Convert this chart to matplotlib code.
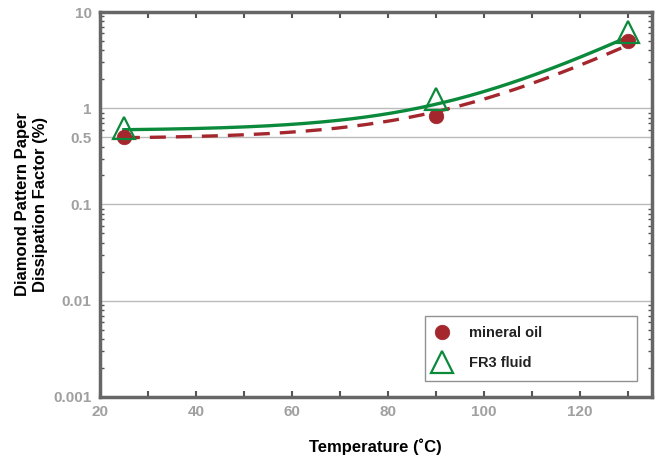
import numpy as np
import matplotlib
matplotlib.use("Agg")
import matplotlib.pyplot as plt
from matplotlib.ticker import FixedLocator, NullFormatter, LogLocator, MultipleLocator

temps = [25, 90, 130]
mineral_oil = [0.50, 0.83, 5.0]
fr3_fluid = [0.63, 1.24, 6.2]
# trend curves y = a + b*exp(c*T)
mineral_oil_fit = (0.482, 0.00296, 0.0555)
fr3_fluid_fit = (0.585, 0.003215, 0.0564)
ytick_vals = [0.001, 0.01, 0.1, 0.5, 1, 10]
ytick_labels = ["0.001", "0.01", "0.1", "0.5", "1", "10"]
xtick_vals = [20, 40, 60, 80, 100, 120]

plt.rcParams['font.family'] = ['Liberation Sans', 'DejaVu Sans']

fig = plt.figure(figsize=(6.57, 4.62), dpi=100)
ax = fig.add_axes([0.152, 0.141, 0.840, 0.833])

red = '#a3272d'
green = '#0b8a3c'

xs = np.linspace(temps[0], temps[-1], 300)
def curve(p, t):
    return p[0] + p[1] * np.exp(p[2] * t)

ax.plot(xs, curve(fr3_fluid_fit, xs), color=green, lw=2.4, zorder=3)
ax.plot(xs, curve(mineral_oil_fit, xs), color=red, lw=2.4, ls=(0, (4.8, 3.0)), zorder=3)

ax.plot(temps, mineral_oil, 'o', color=red, markersize=10.5, markeredgecolor=red,
        markeredgewidth=0.5, ls='none', zorder=4, label='mineral oil')
ax.plot(temps, fr3_fluid, '^', markerfacecolor='none', markeredgecolor=green, markersize=16,
        markeredgewidth=1.6, ls='none', zorder=5, label='FR3 fluid')

ax.set_yscale('log')
ax.set_xlim(20, 135)
ax.set_ylim(0.001, 10)

for yv in [0.01, 0.1, 0.5, 1]:
    ax.axhline(yv, color='#bbbbbb', lw=1, zorder=1)

ax.yaxis.set_major_locator(FixedLocator(ytick_vals))
ax.set_yticklabels(ytick_labels)
ax.yaxis.set_minor_locator(LogLocator(base=10, subs=np.arange(2, 10)))
ax.yaxis.set_minor_formatter(NullFormatter())
ax.xaxis.set_major_locator(FixedLocator(xtick_vals))
ax.xaxis.set_minor_locator(MultipleLocator(10))

ax.tick_params(axis='both', which='both', direction='in', top=True, right=True,
               color='#555555')
ax.tick_params(axis='both', which='major', length=4, width=1.5,
               labelsize=11, labelcolor='#a0a0a0', pad=6)
ax.tick_params(axis='y', which='major', length=0)
ax.tick_params(axis='y', which='minor', length=3, width=1)
ax.tick_params(axis='x', which='minor', length=4, width=1.5)
for lab in ax.get_xticklabels() + ax.get_yticklabels():
    lab.set_fontweight('bold')

for s in ax.spines.values():
    s.set_color('#666666')
    s.set_linewidth(2.5)

ax.set_xlabel('Temperature (˚C)', fontsize=12, fontweight='bold', labelpad=14)
ax.set_ylabel('Diamond Pattern Paper\nDissipation Factor (%)', fontsize=12,
              fontweight='bold', labelpad=4, linespacing=1.25, multialignment='center')

leg = ax.legend(loc='lower left', bbox_to_anchor=(0.589, 0.042, 0.384, 0.164),
                mode='expand', frameon=True, fancybox=False,
                edgecolor='#777777', fontsize=10.5, borderpad=0.7, labelspacing=1.15,
                handletextpad=1.3, handlelength=1.0, borderaxespad=0)
leg.get_frame().set_linewidth(1)
for t in leg.get_texts():
    t.set_fontweight('bold')
    t.set_color('#222222')

fig.savefig('out.png', dpi=100)
